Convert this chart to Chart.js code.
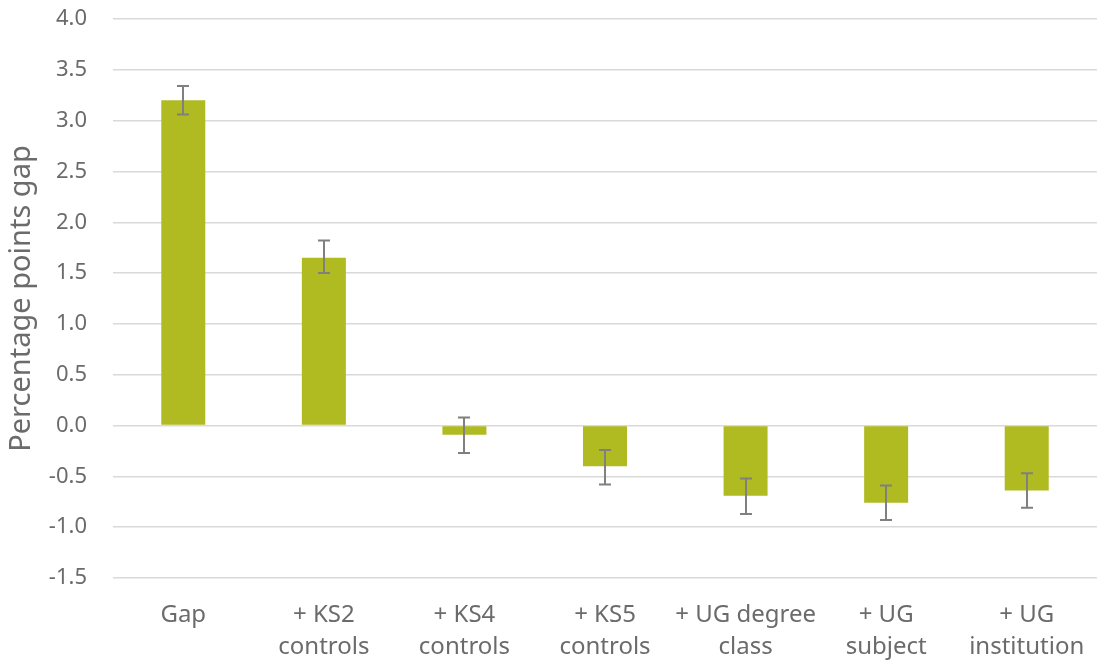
<!DOCTYPE html>
<html>
<head>
<meta charset="utf-8">
<script src="https://cdn.jsdelivr.net/npm/chart.js@4"></script>
<style>
    html, body { margin: 0; padding: 0; background: #fff; }
    #wrap { position: relative; width: 1097px; height: 662px; }
</style>
</head>
<body>
<div id="wrap"><canvas id="gapChart"></canvas></div>
<script>
// Valores
const categories = [
    ['Gap'],
    ['+ KS2', 'controls'],
    ['+ KS4', 'controls'],
    ['+ KS5', 'controls'],
    ['+ UG degree', 'class'],
    ['+ UG', 'subject'],
    ['+ UG', 'institution']
];
const gapValues = [3.20, 1.65, -0.09, -0.40, -0.69, -0.76, -0.64];
const errLow = [3.06, 1.50, -0.27, -0.58, -0.87, -0.93, -0.81];
const errHigh = [3.34, 1.82, 0.08, -0.24, -0.52, -0.59, -0.47];
const yTicks = [-1.5, -1.0, -0.5, 0.0, 0.5, 1.0, 1.5, 2.0, 2.5, 3.0, 3.5, 4.0];

const barColor = '#afbb21';
const textColor = '#6b6b6b';
const gridColor = '#d9d9d9';

const errorBarPlugin = {
    id: 'errorBars',
    afterDatasetsDraw(chart) {
        const ctx = chart.ctx;
        const meta = chart.getDatasetMeta(0);
        const y = chart.scales.y;
        ctx.save();
        ctx.strokeStyle = '#808080';
        ctx.lineWidth = 2;
        meta.data.forEach((bar, i) => {
            const x = Math.round(bar.x);
            const top = y.getPixelForValue(errHigh[i]);
            const bottom = y.getPixelForValue(errLow[i]);
            ctx.beginPath();
            ctx.moveTo(x, top);
            ctx.lineTo(x, bottom);
            ctx.moveTo(x - 6, top);
            ctx.lineTo(x + 6, top);
            ctx.moveTo(x - 6, bottom);
            ctx.lineTo(x + 6, bottom);
            ctx.stroke();
        });
        ctx.restore();
    }
};

// sin padding automático: el área del gráfico se fija con layout.padding
function noAutoPadding(scale) {
    scale.paddingTop = 0;
    scale.paddingBottom = 0;
    scale.paddingLeft = 0;
    scale.paddingRight = 0;
}

Chart.defaults.font.family = '"Noto Sans", sans-serif';

new Chart(document.getElementById('gapChart'), {
    type: 'bar',
    data: {
        labels: categories,
        datasets: [{
            data: gapValues,
            backgroundColor: barColor,
            borderWidth: 0,
            barPercentage: 0.313,
            categoryPercentage: 1.0
        }]
    },
    options: {
        responsive: true,
        maintainAspectRatio: false,
        animation: false,
        layout: { padding: { top: 19, right: 0, bottom: 0, left: 0 } },
        plugins: {
            legend: { display: false },
            tooltip: { enabled: false }
        },
        scales: {
            x: {
                grid: { display: false, drawTicks: false },
                border: { display: false },
                ticks: {
                    color: textColor,
                    font: { size: 24, lineHeight: 1.3 },
                    padding: 22,
                    maxRotation: 0,
                    autoSkip: false
                },
                afterFit(scale) {
                    scale.height = 84;
                    noAutoPadding(scale);
                }
            },
            y: {
                min: -1.5,
                max: 4.0,
                afterBuildTicks(scale) {
                    scale.ticks = yTicks.map(v => ({ value: v }));
                },
                grid: { color: gridColor, lineWidth: 1.5, drawTicks: false },
                border: { display: false },
                ticks: {
                    color: textColor,
                    font: { size: 22 },
                    padding: 26,
                    callback: v => v.toFixed(1)
                },
                title: {
                    display: true,
                    text: 'Percentage points gap',
                    color: textColor,
                    font: { size: 29 },
                    padding: { top: 4, bottom: 0 }
                },
                afterFit(scale) {
                    scale.width = 113;
                    noAutoPadding(scale);
                }
            }
        }
    },
    plugins: [errorBarPlugin]
});
</script>
</body>
</html>
